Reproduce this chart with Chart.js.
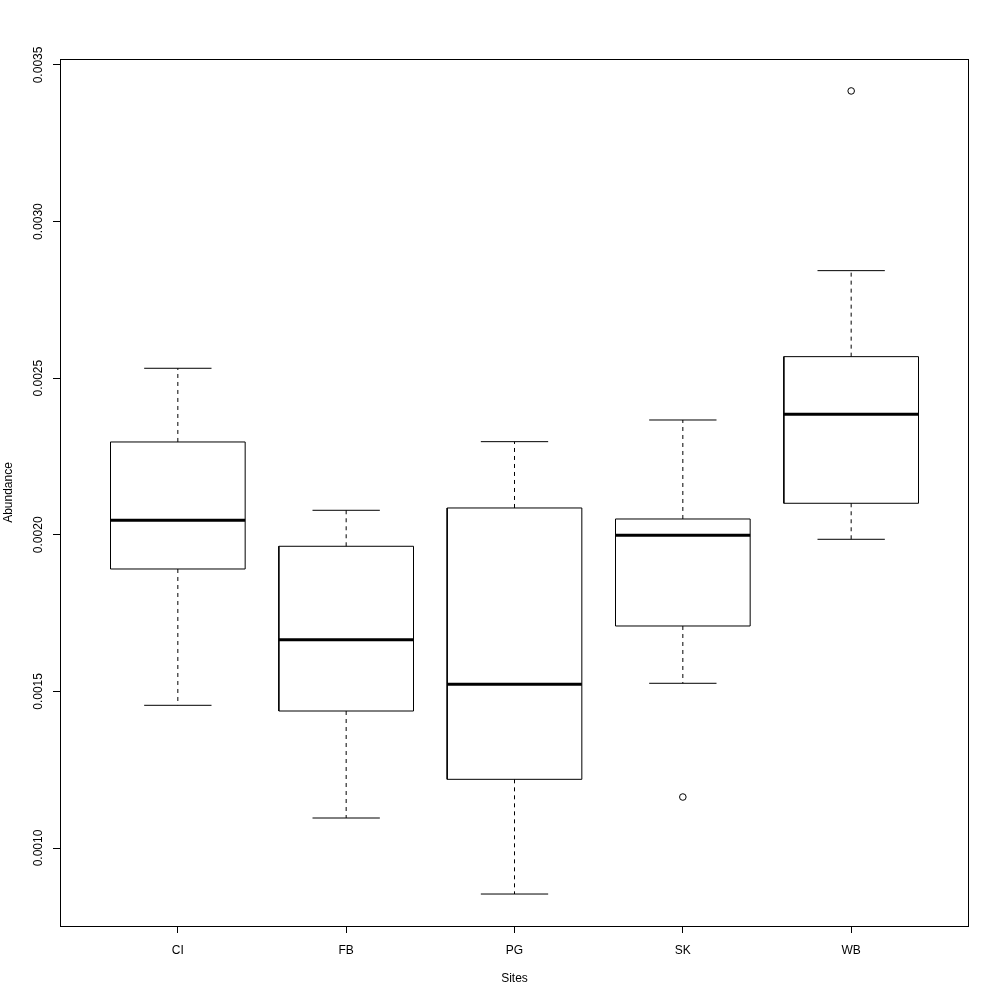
<!DOCTYPE html>
<html>
<head>
<meta charset="utf-8">
<script src="https://cdn.jsdelivr.net/npm/chart.js@4/dist/chart.umd.min.js"></script>
<style>
  html, body { margin: 0; padding: 0; background: #ffffff; }
  #wrap { width: 1000px; height: 1000px; }
</style>
</head>
<body>
<div id="wrap"><canvas id="c" width="1000" height="1000"></canvas></div>
<script>
// ---- data ----
const sites = ['CI', 'FB', 'PG', 'SK', 'WB'];
const lowerWhisker = [0.0014556, 0.0010958, 0.0008531, 0.0015259, 0.0019856];
const lowerQuartile = [0.0018908, 0.0014374, 0.0012193, 0.0017088, 0.0021006];
const medians = [0.0020463, 0.0016651, 0.0015227, 0.0019984, 0.0023847];
const upperQuartile = [0.0022963, 0.0019633, 0.0020856, 0.0020504, 0.0025687];
const upperWhisker = [0.0025316, 0.0020782, 0.0022973, 0.0023665, 0.0028433];
const outlierSite = ['SK', 'WB'];
const outlierValue = [0.0011628, 0.003417];
const yTickValues = [0.0010, 0.0015, 0.0020, 0.0025, 0.0030, 0.0035];
const yTickLabels = ['0.0010', '0.0015', '0.0020', '0.0025', '0.0030', '0.0035'];
const xTitle = 'Sites';
const yTitle = 'Abundance';

// ---- geometry helpers (in data units of the category axis) ----
const BOX_HALF = 0.4;
const CAP_HALF = 0.2;
const GAP = (x) => ({ x: x, y: null });

const boxPts = [], medPts = [], whiskPts = [], capPts = [];
sites.forEach((s, i) => {
  const c = i + 1;
  boxPts.push({x: c - BOX_HALF, y: lowerQuartile[i]}, {x: c + BOX_HALF, y: lowerQuartile[i]},
              {x: c + BOX_HALF, y: upperQuartile[i]}, {x: c - BOX_HALF, y: upperQuartile[i]},
              {x: c - BOX_HALF, y: lowerQuartile[i]}, GAP(c));
  medPts.push({x: c - BOX_HALF, y: medians[i]}, {x: c + BOX_HALF, y: medians[i]}, GAP(c));
  whiskPts.push({x: c, y: upperQuartile[i]}, {x: c, y: upperWhisker[i]}, GAP(c),
                {x: c, y: lowerQuartile[i]}, {x: c, y: lowerWhisker[i]}, GAP(c));
  capPts.push({x: c - CAP_HALF, y: upperWhisker[i]}, {x: c + CAP_HALF, y: upperWhisker[i]}, GAP(c),
              {x: c - CAP_HALF, y: lowerWhisker[i]}, {x: c + CAP_HALF, y: lowerWhisker[i]}, GAP(c));
});
const outPts = outlierSite.map((s, k) => ({x: sites.indexOf(s) + 1, y: outlierValue[k]}));

const FONT = '"Liberation Sans", Arial, Helvetica, sans-serif';
const lineDs = (data, width, dash) => ({
  type: 'scatter', data: data, showLine: true, spanGaps: false,
  borderColor: '#000', borderWidth: width, borderDash: dash || [],
  pointRadius: 0, pointHoverRadius: 0, fill: false, tension: 0,
  borderCapStyle: 'butt'
});

const framePlugin = {
  id: 'frame',
  afterDraw(chart) {
    const {ctx, chartArea: a} = chart;
    ctx.save();
    ctx.strokeStyle = '#000';
    ctx.lineWidth = 1;
    ctx.strokeRect(Math.round(a.left) + 0.5, Math.round(a.top) + 0.5,
                   Math.round(a.right - a.left) - 1, Math.round(a.bottom - a.top));
    // y tick labels, rotated like R's default (las = 0)
    const ys = chart.scales.y;
    ctx.fillStyle = '#000';
    ctx.font = '12px ' + FONT;
    ctx.textAlign = 'center';
    ctx.textBaseline = 'alphabetic';
    yTickValues.forEach((v, k) => {
      const py = ys.getPixelForValue(v);
      ctx.save();
      ctx.translate(42, py);
      ctx.rotate(-Math.PI / 2);
      ctx.fillText(yTickLabels[k], 0, 0);
      ctx.restore();
    });
    ctx.restore();
  }
};

new Chart(document.getElementById('c'), {
  type: 'scatter',
  data: {
    datasets: [
      lineDs(whiskPts, 1, [4, 4]),
      lineDs(capPts, 1),
      lineDs(boxPts, 1),
      lineDs(medPts, 3),
      {
        type: 'scatter', data: outPts, showLine: false,
        pointStyle: 'circle', pointRadius: 3.3, pointBorderWidth: 1,
        pointBorderColor: '#000', pointBackgroundColor: 'rgba(0,0,0,0)'
      }
    ]
  },
  options: {
    responsive: false,
    animation: false,
    events: [],
    layout: { padding: { left: 0, top: 59, right: 31, bottom: 0 } },
    plugins: { legend: { display: false }, tooltip: { enabled: false }, title: { display: false } },
    scales: {
      x: {
        type: 'linear', min: 0.3, max: 5.7,
        afterBuildTicks: (s) => { s.ticks = sites.map((_, i) => ({ value: i + 1 })); },
        afterFit: (s) => { s.height = 74; },
        border: { display: false },
        grid: { drawOnChartArea: false, drawTicks: true, tickLength: 7, color: '#000', tickColor: '#000' },
        ticks: {
          autoSkip: false, maxRotation: 0, padding: 10, color: '#000',
          font: { family: FONT, size: 12 },
          callback: (v) => sites[v - 1] || ''
        },
        title: { display: true, text: xTitle, color: '#000', font: { family: FONT, size: 12 }, padding: { top: 0, bottom: 14 } }
      },
      y: {
        type: 'linear', min: 0.000751, max: 0.003519,
        afterBuildTicks: (s) => { s.ticks = yTickValues.map(v => ({ value: v })); },
        afterFit: (s) => { s.width = 60; },
        border: { display: false },
        grid: { drawOnChartArea: false, drawTicks: true, tickLength: 7, color: '#000', tickColor: '#000' },
        ticks: { display: false },
        title: { display: true, text: yTitle, color: '#000', font: { family: FONT, size: 12 }, padding: { top: 1, bottom: 0 } }
      }
    }
  },
  plugins: [framePlugin]
});
</script>
</body>
</html>
